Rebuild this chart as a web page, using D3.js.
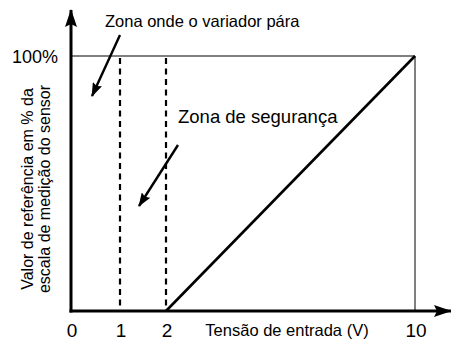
<!DOCTYPE html>
<html>
<head>
<meta charset="utf-8">
<script src="https://cdn.jsdelivr.net/npm/d3@7"></script>
<style>
  body { margin: 0; background: #fff; }
  text { font-family: "Liberation Sans", Arial, sans-serif; fill: #000; }
</style>
</head>
<body>
<div id="chart"></div>
<script>
// chart values
var xTicks = [0, 1, 2, 10];
var xTickLabels = ["0", "1", "2", "10"];
var yTicks = [100];
var yTickLabels = ["100%"];
var stopZone = [1, 2];          // dashed lines
var inputVolts = [2, 10];       // reference line
var refPercent = [0, 100];

var width = 451, height = 343;

var svg = d3.select("#chart").append("svg")
    .attr("width", width)
    .attr("height", height);

// schematic axis, not to scale (0-2 stretched)
var x = d3.scaleLinear().domain([0, 1, 2, 10]).range([71, 120, 166, 415]);
var y = d3.scaleLinear().domain([0, 100]).range([311, 56]);

var defs = svg.append("defs");
defs.append("marker")
    .attr("id", "bigArrow")
    .attr("viewBox", "0 0 18 12")
    .attr("refX", 17).attr("refY", 6)
    .attr("markerWidth", 18).attr("markerHeight", 12)
    .attr("markerUnits", "userSpaceOnUse")
    .attr("orient", "auto")
    .append("path").attr("d", "M0,0 L18,6 L0,12 L3,6 Z").attr("fill", "#000");
defs.append("marker")
    .attr("id", "smallArrow")
    .attr("viewBox", "0 0 14 10")
    .attr("refX", 13).attr("refY", 5)
    .attr("markerWidth", 14).attr("markerHeight", 10)
    .attr("markerUnits", "userSpaceOnUse")
    .attr("orient", "auto")
    .append("path").attr("d", "M0,0 L14,5 L0,10 L2,5 Z").attr("fill", "#000");

// box at 100% and 10V
svg.append("line")
    .attr("x1", x(0)).attr("x2", x(10))
    .attr("y1", y(100)).attr("y2", y(100))
    .attr("stroke", "#000").attr("stroke-width", 1);
svg.append("line")
    .attr("x1", x(10)).attr("x2", x(10))
    .attr("y1", y(100)).attr("y2", y(0))
    .attr("stroke", "#000").attr("stroke-width", 1);

// dashed zone lines
svg.selectAll(".zone")
    .data(stopZone)
    .enter().append("line")
    .attr("class", "zone")
    .attr("x1", function(d) { return x(d); })
    .attr("x2", function(d) { return x(d); })
    .attr("y1", y(100) + 2)
    .attr("y2", y(0))
    .attr("stroke", "#000")
    .attr("stroke-width", 2.2)
    .attr("stroke-dasharray", "6,4.5");

// reference line
var pts = inputVolts.map(function(v, i) { return [v, refPercent[i]]; });
svg.append("path")
    .datum(pts)
    .attr("fill", "none")
    .attr("stroke", "#000")
    .attr("stroke-width", 2.6)
    .attr("d", d3.line()
        .x(function(d) { return x(d[0]); })
        .y(function(d) { return y(d[1]); }));

// axes with arrow heads
svg.append("line")
    .attr("x1", x(0)).attr("y1", y(0) + 1.5)
    .attr("x2", x(0)).attr("y2", 10)
    .attr("stroke", "#000").attr("stroke-width", 3)
    .attr("marker-end", "url(#bigArrow)");
svg.append("line")
    .attr("x1", x(0) - 1.5).attr("y1", y(0))
    .attr("x2", 451).attr("y2", y(0))
    .attr("stroke", "#000").attr("stroke-width", 3)
    .attr("marker-end", "url(#bigArrow)");

// tick labels
svg.selectAll(".xlab")
    .data(xTicks)
    .enter().append("text")
    .attr("class", "xlab")
    .attr("x", function(d) { return x(d) + 1; })
    .attr("y", 337)
    .attr("text-anchor", "middle")
    .attr("font-size", 19)
    .text(function(d, i) { return xTickLabels[i]; });

svg.selectAll(".ylab")
    .data(yTicks)
    .enter().append("text")
    .attr("class", "ylab")
    .attr("x", 58)
    .attr("y", y(100) + 7)
    .attr("text-anchor", "end")
    .attr("font-size", 18)
    .text(function(d, i) { return yTickLabels[i]; });

// axis titles
svg.append("text")
    .attr("x", 287).attr("y", 336)
    .attr("text-anchor", "middle")
    .attr("font-size", 16.5)
    .text("Tensão de entrada (V)");

var yTitle = svg.append("text")
    .attr("transform", "translate(0,189) rotate(-90)")
    .attr("text-anchor", "middle")
    .attr("font-size", 16);
yTitle.append("tspan").attr("x", 0).attr("y", 33).text("Valor de referência em % da");
yTitle.append("tspan").attr("x", 0).attr("y", 50).text("escala de medição do sensor");

// annotations
svg.append("text")
    .attr("x", 105).attr("y", 27)
    .attr("font-size", 16.5)
    .text("Zona onde o variador pára");
svg.append("line")
    .attr("x1", 120).attr("y1", 35)
    .attr("x2", 92).attr("y2", 96)
    .attr("stroke", "#000").attr("stroke-width", 2.4)
    .attr("marker-end", "url(#smallArrow)");

svg.append("text")
    .attr("x", 178).attr("y", 123)
    .attr("font-size", 18.5)
    .text("Zona de segurança");
svg.append("line")
    .attr("x1", 178).attr("y1", 145)
    .attr("x2", 139).attr("y2", 206)
    .attr("stroke", "#000").attr("stroke-width", 2.4)
    .attr("marker-end", "url(#smallArrow)");
</script>
</body>
</html>
